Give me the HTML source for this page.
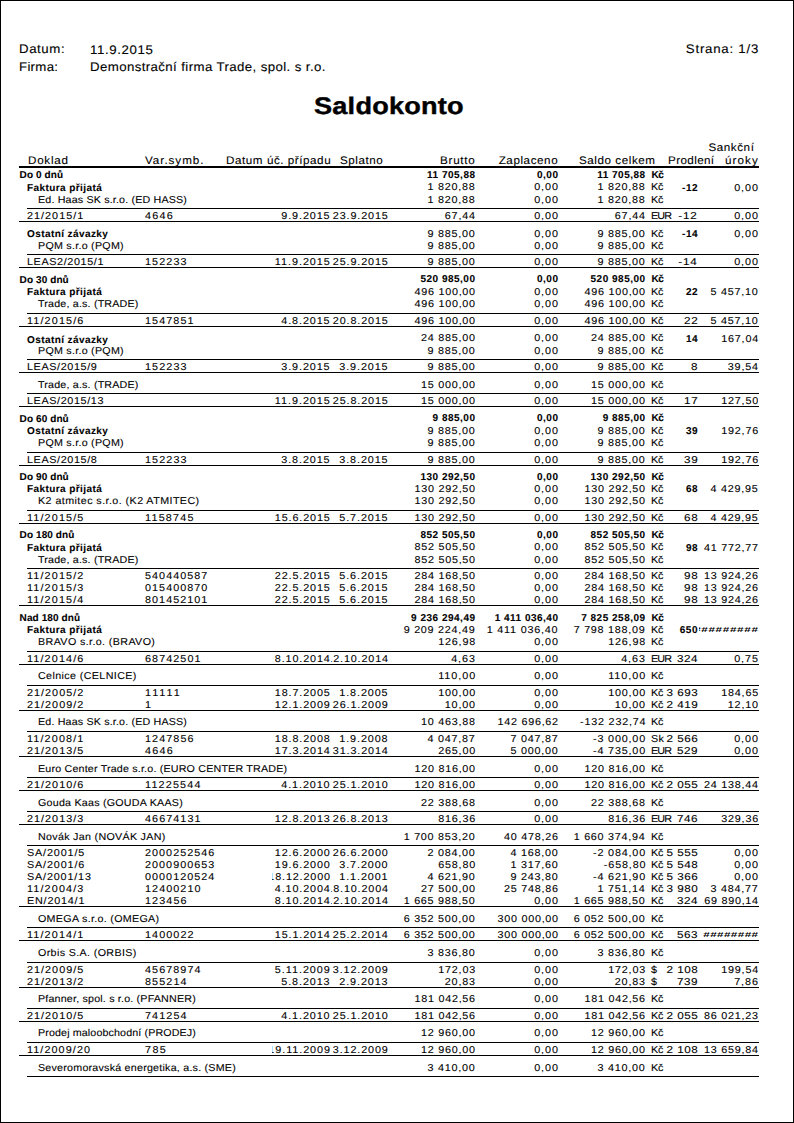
<!DOCTYPE html>
<html lang="cs"><head><meta charset="utf-8"><title>Saldokonto</title>
<style>
html,body{margin:0;padding:0;background:#fff;}
body{width:794px;height:1123px;position:relative;overflow:hidden;font-family:"Liberation Sans",sans-serif;color:#000;text-rendering:geometricPrecision;}
#pg{position:absolute;left:0;top:0;width:792px;height:1121px;border:1px solid #000;}
.t{position:absolute;white-space:pre;display:block;}
.c{position:absolute;overflow:hidden;}
.c span{position:absolute;top:0;white-space:pre;display:block;}
.l{position:absolute;background:#000;display:block;}
.hdr{font-size:11px;line-height:14px;-webkit-text-stroke:0.1px #000;}
.num{font-size:10px;line-height:13px;-webkit-text-stroke:0.1px #000;}
.date{font-size:10px;line-height:13px;-webkit-text-stroke:0.1px #000;}
.vs{font-size:10px;line-height:13px;-webkit-text-stroke:0.1px #000;}
.dok{font-size:10px;line-height:13px;-webkit-text-stroke:0.1px #000;}
.comp{font-size:10px;line-height:13px;-webkit-text-stroke:0.1px #000;}
.cur{font-size:10px;line-height:13px;-webkit-text-stroke:0.1px #000;}
.pr{font-size:10px;line-height:13px;-webkit-text-stroke:0.1px #000;}
.bG{font-size:10px;line-height:13px;font-weight:bold;-webkit-text-stroke:0.1px #000;}
.bT{font-size:10px;line-height:13px;font-weight:bold;-webkit-text-stroke:0.1px #000;}
.bnum{font-size:10px;line-height:13px;font-weight:bold;-webkit-text-stroke:0.1px #000;}
.bcur{font-size:10px;line-height:13px;font-weight:bold;-webkit-text-stroke:0.1px #000;}
.top{font-size:12.5px;line-height:16px;-webkit-text-stroke:0.1px #000;}
.title{font-size:24px;line-height:31px;font-weight:bold;}
.hash{font-size:9px;line-height:12px;font-weight:bold;}
</style></head>
<body>
<div id="pg"></div>
<span class="t top" style="top:41px;letter-spacing:0.55px;left:18.90px;transform:scaleX(1.060);transform-origin:0 50%;">Datum:</span>
<span class="t top" style="top:42px;letter-spacing:0.59px;left:89.80px;transform:scaleX(1.060);transform-origin:0 50%;">11.9.2015</span>
<span class="t top" style="top:59px;letter-spacing:0.27px;left:18.90px;transform:scaleX(1.060);transform-origin:0 50%;">Firma:</span>
<span class="t top" style="top:59px;letter-spacing:0.37px;left:90.00px;transform:scaleX(1.060);transform-origin:0 50%;">Demonstrační firma Trade, spol. s r.o.</span>
<span class="t top" style="top:41px;letter-spacing:0.72px;right:35.23px;transform:scaleX(1.060);transform-origin:100% 50%;">Strana: 1/3</span>
<span class="t title" style="top:91px;letter-spacing:0.20px;left:314.20px;transform-origin:0 50%;transform:scaleX(1.13);-webkit-text-stroke:0.4px #000;">Saldokonto</span>
<span class="t hdr" style="top:154px;letter-spacing:0.68px;left:27.70px;transform:scaleX(1.060);transform-origin:0 50%;">Doklad</span>
<span class="t hdr" style="top:154px;letter-spacing:0.88px;left:145.30px;transform:scaleX(1.060);transform-origin:0 50%;">Var.symb.</span>
<div class="c hdr" style="left:225.80px;top:154px;width:105.20px;height:14px"><span style="right:0.26px;letter-spacing:0.51px;transform:scaleX(1.060);transform-origin:100% 50%;">Datum úč. případu</span></div>
<span class="t hdr" style="top:154px;letter-spacing:0.51px;left:339.70px;transform:scaleX(1.060);transform-origin:0 50%;">Splatno</span>
<span class="t hdr" style="top:154px;letter-spacing:0.70px;right:318.46px;transform:scaleX(1.060);transform-origin:100% 50%;">Brutto</span>
<span class="t hdr" style="top:154px;letter-spacing:0.54px;right:235.43px;transform:scaleX(1.060);transform-origin:100% 50%;">Zaplaceno</span>
<span class="t hdr" style="top:154px;letter-spacing:0.52px;left:579.00px;transform:scaleX(1.060);transform-origin:0 50%;">Saldo celkem</span>
<span class="t hdr" style="top:154px;letter-spacing:0.36px;left:668.00px;transform:scaleX(1.060);transform-origin:0 50%;">Prodlení</span>
<span class="t hdr" style="top:141px;letter-spacing:0.53px;right:39.24px;transform:scaleX(1.060);transform-origin:100% 50%;">Sankční</span>
<span class="t hdr" style="top:154px;letter-spacing:0.99px;right:34.95px;transform:scaleX(1.060);transform-origin:100% 50%;">úroky</span>
<i class="l" style="left:19px;top:166px;width:740px;height:2px"></i>
<span class="t bG" style="top:169px;letter-spacing:0.10px;left:19.60px;">Do 0 dnů</span>
<span class="t bnum" style="top:169px;letter-spacing:0.50px;right:318.50px;">11 705,88</span>
<span class="t bnum" style="top:169px;letter-spacing:0.50px;right:235.50px;">0,00</span>
<span class="t bnum" style="top:169px;letter-spacing:0.50px;right:148.40px;">11 705,88</span>
<span class="t bcur" style="top:169px;letter-spacing:-0.50px;left:651.60px;">Kč</span>
<span class="t bT" style="top:182px;letter-spacing:0.42px;left:27.00px;">Faktura přijatá</span>
<span class="t num" style="top:181px;letter-spacing:0.70px;right:318.24px;transform:scaleX(1.080);transform-origin:100% 50%;">1 820,88</span>
<span class="t num" style="top:181px;letter-spacing:0.84px;right:235.09px;transform:scaleX(1.080);transform-origin:100% 50%;">0,00</span>
<span class="t num" style="top:181px;letter-spacing:0.70px;right:148.14px;transform:scaleX(1.080);transform-origin:100% 50%;">1 820,88</span>
<span class="t cur" style="top:181px;letter-spacing:-0.20px;left:651.30px;transform:scaleX(1.080);transform-origin:0 50%;">Kč</span>
<span class="t bnum" style="top:182px;letter-spacing:0.50px;right:96.00px;">-12</span>
<span class="t num" style="top:182px;letter-spacing:0.84px;right:35.09px;transform:scaleX(1.080);transform-origin:100% 50%;">0,00</span>
<span class="t comp" style="top:194px;letter-spacing:0.15px;left:38.00px;transform:scaleX(1.070);transform-origin:0 50%;">Ed. Haas SK s.r.o. (ED HASS)</span>
<span class="t num" style="top:194px;letter-spacing:0.70px;right:318.24px;transform:scaleX(1.080);transform-origin:100% 50%;">1 820,88</span>
<span class="t num" style="top:194px;letter-spacing:0.84px;right:235.09px;transform:scaleX(1.080);transform-origin:100% 50%;">0,00</span>
<span class="t num" style="top:194px;letter-spacing:0.70px;right:148.14px;transform:scaleX(1.080);transform-origin:100% 50%;">1 820,88</span>
<span class="t cur" style="top:194px;letter-spacing:-0.20px;left:651.30px;transform:scaleX(1.080);transform-origin:0 50%;">Kč</span>
<i class="l" style="left:27px;top:208px;width:732px;height:1px"></i>
<span class="t dok" style="top:210px;letter-spacing:0.95px;left:26.60px;transform:scaleX(1.080);transform-origin:0 50%;">21/2015/1</span>
<span class="t vs" style="top:210px;letter-spacing:1.14px;left:145.20px;transform:scaleX(1.080);transform-origin:0 50%;">4646</span>
<div class="c date" style="left:272.00px;top:210px;width:59.00px;height:13px"><span style="right:0.12px;letter-spacing:0.81px;transform:scaleX(1.080);transform-origin:100% 50%;">9.9.2015</span></div>
<div class="c date" style="left:331.00px;top:210px;width:58.00px;height:13px"><span style="right:0.44px;letter-spacing:0.79px;transform:scaleX(1.080);transform-origin:100% 50%;">23.9.2015</span></div>
<span class="t num" style="top:210px;letter-spacing:0.78px;right:318.16px;transform:scaleX(1.080);transform-origin:100% 50%;">67,44</span>
<span class="t num" style="top:210px;letter-spacing:0.84px;right:235.09px;transform:scaleX(1.080);transform-origin:100% 50%;">0,00</span>
<span class="t num" style="top:210px;letter-spacing:0.78px;right:148.06px;transform:scaleX(1.080);transform-origin:100% 50%;">67,44</span>
<span class="t cur" style="top:210px;letter-spacing:-0.83px;left:651.30px;transform:scaleX(1.080);transform-origin:0 50%;">EUR</span>
<span class="t pr" style="top:210px;letter-spacing:0.74px;right:95.94px;transform:scaleX(1.170);transform-origin:100% 50%;">-12</span>
<div class="c num" style="left:702.50px;top:210px;width:55.80px;height:13px"><span style="right:-0.61px;letter-spacing:0.84px;transform:scaleX(1.080);transform-origin:100% 50%;">0,00</span></div>
<i class="l" style="left:19px;top:221px;width:740px;height:1px"></i>
<span class="t bT" style="top:228px;letter-spacing:0.42px;left:27.00px;">Ostatní závazky</span>
<span class="t num" style="top:228px;letter-spacing:0.70px;right:318.24px;transform:scaleX(1.080);transform-origin:100% 50%;">9 885,00</span>
<span class="t num" style="top:228px;letter-spacing:0.84px;right:235.09px;transform:scaleX(1.080);transform-origin:100% 50%;">0,00</span>
<span class="t num" style="top:228px;letter-spacing:0.70px;right:148.14px;transform:scaleX(1.080);transform-origin:100% 50%;">9 885,00</span>
<span class="t cur" style="top:228px;letter-spacing:-0.20px;left:651.30px;transform:scaleX(1.080);transform-origin:0 50%;">Kč</span>
<span class="t bnum" style="top:228px;letter-spacing:0.50px;right:96.00px;">-14</span>
<span class="t num" style="top:228px;letter-spacing:0.84px;right:35.09px;transform:scaleX(1.080);transform-origin:100% 50%;">0,00</span>
<span class="t comp" style="top:240px;letter-spacing:0.24px;left:38.00px;transform:scaleX(1.070);transform-origin:0 50%;">PQM s.r.o (PQM)</span>
<span class="t num" style="top:240px;letter-spacing:0.70px;right:318.24px;transform:scaleX(1.080);transform-origin:100% 50%;">9 885,00</span>
<span class="t num" style="top:240px;letter-spacing:0.84px;right:235.09px;transform:scaleX(1.080);transform-origin:100% 50%;">0,00</span>
<span class="t num" style="top:240px;letter-spacing:0.70px;right:148.14px;transform:scaleX(1.080);transform-origin:100% 50%;">9 885,00</span>
<span class="t cur" style="top:240px;letter-spacing:-0.20px;left:651.30px;transform:scaleX(1.080);transform-origin:0 50%;">Kč</span>
<i class="l" style="left:27px;top:254px;width:732px;height:1px"></i>
<span class="t dok" style="top:256px;letter-spacing:0.57px;left:26.60px;transform:scaleX(1.080);transform-origin:0 50%;">LEAS2/2015/1</span>
<span class="t vs" style="top:256px;letter-spacing:1.03px;left:145.20px;transform:scaleX(1.080);transform-origin:0 50%;">152233</span>
<div class="c date" style="left:272.00px;top:256px;width:59.00px;height:13px"><span style="right:0.04px;letter-spacing:0.89px;transform:scaleX(1.080);transform-origin:100% 50%;">11.9.2015</span></div>
<div class="c date" style="left:331.00px;top:256px;width:58.00px;height:13px"><span style="right:0.44px;letter-spacing:0.79px;transform:scaleX(1.080);transform-origin:100% 50%;">25.9.2015</span></div>
<span class="t num" style="top:256px;letter-spacing:0.70px;right:318.24px;transform:scaleX(1.080);transform-origin:100% 50%;">9 885,00</span>
<span class="t num" style="top:256px;letter-spacing:0.84px;right:235.09px;transform:scaleX(1.080);transform-origin:100% 50%;">0,00</span>
<span class="t num" style="top:256px;letter-spacing:0.70px;right:148.14px;transform:scaleX(1.080);transform-origin:100% 50%;">9 885,00</span>
<span class="t cur" style="top:256px;letter-spacing:-0.20px;left:651.30px;transform:scaleX(1.080);transform-origin:0 50%;">Kč</span>
<span class="t pr" style="top:256px;letter-spacing:0.74px;right:95.94px;transform:scaleX(1.170);transform-origin:100% 50%;">-14</span>
<div class="c num" style="left:702.50px;top:256px;width:55.80px;height:13px"><span style="right:-0.61px;letter-spacing:0.84px;transform:scaleX(1.080);transform-origin:100% 50%;">0,00</span></div>
<i class="l" style="left:19px;top:267px;width:740px;height:1px"></i>
<span class="t bG" style="top:274px;letter-spacing:0.10px;left:19.60px;">Do 30 dnů</span>
<span class="t bnum" style="top:273px;letter-spacing:0.50px;right:318.50px;">520 985,00</span>
<span class="t bnum" style="top:273px;letter-spacing:0.50px;right:235.50px;">0,00</span>
<span class="t bnum" style="top:273px;letter-spacing:0.50px;right:148.40px;">520 985,00</span>
<span class="t bcur" style="top:273px;letter-spacing:-0.50px;left:651.60px;">Kč</span>
<span class="t bT" style="top:286px;letter-spacing:0.42px;left:27.00px;">Faktura přijatá</span>
<span class="t num" style="top:286px;letter-spacing:0.68px;right:318.27px;transform:scaleX(1.080);transform-origin:100% 50%;">496 100,00</span>
<span class="t num" style="top:286px;letter-spacing:0.84px;right:235.09px;transform:scaleX(1.080);transform-origin:100% 50%;">0,00</span>
<span class="t num" style="top:286px;letter-spacing:0.68px;right:148.17px;transform:scaleX(1.080);transform-origin:100% 50%;">496 100,00</span>
<span class="t cur" style="top:286px;letter-spacing:-0.20px;left:651.30px;transform:scaleX(1.080);transform-origin:0 50%;">Kč</span>
<span class="t bnum" style="top:286px;letter-spacing:0.50px;right:96.00px;">22</span>
<span class="t num" style="top:286px;letter-spacing:0.70px;right:35.24px;transform:scaleX(1.080);transform-origin:100% 50%;">5 457,10</span>
<span class="t comp" style="top:298px;letter-spacing:0.17px;left:38.00px;transform:scaleX(1.070);transform-origin:0 50%;">Trade, a.s. (TRADE)</span>
<span class="t num" style="top:298px;letter-spacing:0.68px;right:318.27px;transform:scaleX(1.080);transform-origin:100% 50%;">496 100,00</span>
<span class="t num" style="top:298px;letter-spacing:0.84px;right:235.09px;transform:scaleX(1.080);transform-origin:100% 50%;">0,00</span>
<span class="t num" style="top:298px;letter-spacing:0.68px;right:148.17px;transform:scaleX(1.080);transform-origin:100% 50%;">496 100,00</span>
<span class="t cur" style="top:298px;letter-spacing:-0.20px;left:651.30px;transform:scaleX(1.080);transform-origin:0 50%;">Kč</span>
<i class="l" style="left:27px;top:313px;width:732px;height:1px"></i>
<span class="t dok" style="top:315px;letter-spacing:1.05px;left:26.60px;transform:scaleX(1.080);transform-origin:0 50%;">11/2015/6</span>
<span class="t vs" style="top:315px;letter-spacing:1.00px;left:145.20px;transform:scaleX(1.080);transform-origin:0 50%;">1547851</span>
<div class="c date" style="left:272.00px;top:315px;width:59.00px;height:13px"><span style="right:0.12px;letter-spacing:0.81px;transform:scaleX(1.080);transform-origin:100% 50%;">4.8.2015</span></div>
<div class="c date" style="left:331.00px;top:315px;width:58.00px;height:13px"><span style="right:0.44px;letter-spacing:0.79px;transform:scaleX(1.080);transform-origin:100% 50%;">20.8.2015</span></div>
<span class="t num" style="top:315px;letter-spacing:0.68px;right:318.27px;transform:scaleX(1.080);transform-origin:100% 50%;">496 100,00</span>
<span class="t num" style="top:315px;letter-spacing:0.84px;right:235.09px;transform:scaleX(1.080);transform-origin:100% 50%;">0,00</span>
<span class="t num" style="top:315px;letter-spacing:0.68px;right:148.17px;transform:scaleX(1.080);transform-origin:100% 50%;">496 100,00</span>
<span class="t cur" style="top:315px;letter-spacing:-0.20px;left:651.30px;transform:scaleX(1.080);transform-origin:0 50%;">Kč</span>
<span class="t pr" style="top:315px;letter-spacing:0.62px;right:96.08px;transform:scaleX(1.170);transform-origin:100% 50%;">22</span>
<div class="c num" style="left:702.50px;top:315px;width:55.80px;height:13px"><span style="right:-0.46px;letter-spacing:0.70px;transform:scaleX(1.080);transform-origin:100% 50%;">5 457,10</span></div>
<i class="l" style="left:19px;top:326px;width:740px;height:1px"></i>
<span class="t bT" style="top:334px;letter-spacing:0.42px;left:27.00px;">Ostatní závazky</span>
<span class="t num" style="top:332px;letter-spacing:0.69px;right:318.26px;transform:scaleX(1.080);transform-origin:100% 50%;">24 885,00</span>
<span class="t num" style="top:332px;letter-spacing:0.84px;right:235.09px;transform:scaleX(1.080);transform-origin:100% 50%;">0,00</span>
<span class="t num" style="top:332px;letter-spacing:0.69px;right:148.16px;transform:scaleX(1.080);transform-origin:100% 50%;">24 885,00</span>
<span class="t cur" style="top:332px;letter-spacing:-0.20px;left:651.30px;transform:scaleX(1.080);transform-origin:0 50%;">Kč</span>
<span class="t bnum" style="top:333px;letter-spacing:0.50px;right:96.00px;">14</span>
<span class="t num" style="top:333px;letter-spacing:0.74px;right:35.20px;transform:scaleX(1.080);transform-origin:100% 50%;">167,04</span>
<span class="t comp" style="top:345px;letter-spacing:0.24px;left:38.00px;transform:scaleX(1.070);transform-origin:0 50%;">PQM s.r.o (PQM)</span>
<span class="t num" style="top:345px;letter-spacing:0.70px;right:318.24px;transform:scaleX(1.080);transform-origin:100% 50%;">9 885,00</span>
<span class="t num" style="top:345px;letter-spacing:0.84px;right:235.09px;transform:scaleX(1.080);transform-origin:100% 50%;">0,00</span>
<span class="t num" style="top:345px;letter-spacing:0.70px;right:148.14px;transform:scaleX(1.080);transform-origin:100% 50%;">9 885,00</span>
<span class="t cur" style="top:345px;letter-spacing:-0.20px;left:651.30px;transform:scaleX(1.080);transform-origin:0 50%;">Kč</span>
<i class="l" style="left:27px;top:359px;width:732px;height:1px"></i>
<span class="t dok" style="top:361px;letter-spacing:0.57px;left:26.60px;transform:scaleX(1.080);transform-origin:0 50%;">LEAS/2015/9</span>
<span class="t vs" style="top:361px;letter-spacing:1.03px;left:145.20px;transform:scaleX(1.080);transform-origin:0 50%;">152233</span>
<div class="c date" style="left:272.00px;top:361px;width:59.00px;height:13px"><span style="right:0.12px;letter-spacing:0.81px;transform:scaleX(1.080);transform-origin:100% 50%;">3.9.2015</span></div>
<div class="c date" style="left:331.00px;top:361px;width:58.00px;height:13px"><span style="right:0.42px;letter-spacing:0.81px;transform:scaleX(1.080);transform-origin:100% 50%;">3.9.2015</span></div>
<span class="t num" style="top:361px;letter-spacing:0.70px;right:318.24px;transform:scaleX(1.080);transform-origin:100% 50%;">9 885,00</span>
<span class="t num" style="top:361px;letter-spacing:0.84px;right:235.09px;transform:scaleX(1.080);transform-origin:100% 50%;">0,00</span>
<span class="t num" style="top:361px;letter-spacing:0.70px;right:148.14px;transform:scaleX(1.080);transform-origin:100% 50%;">9 885,00</span>
<span class="t cur" style="top:361px;letter-spacing:-0.20px;left:651.30px;transform:scaleX(1.080);transform-origin:0 50%;">Kč</span>
<span class="t pr" style="top:361px;letter-spacing:0.31px;right:96.44px;transform:scaleX(1.170);transform-origin:100% 50%;">8</span>
<div class="c num" style="left:702.50px;top:361px;width:55.80px;height:13px"><span style="right:-0.54px;letter-spacing:0.78px;transform:scaleX(1.080);transform-origin:100% 50%;">39,54</span></div>
<i class="l" style="left:19px;top:372px;width:740px;height:1px"></i>
<span class="t comp" style="top:379px;letter-spacing:0.17px;left:38.00px;transform:scaleX(1.070);transform-origin:0 50%;">Trade, a.s. (TRADE)</span>
<span class="t num" style="top:379px;letter-spacing:0.69px;right:318.26px;transform:scaleX(1.080);transform-origin:100% 50%;">15 000,00</span>
<span class="t num" style="top:379px;letter-spacing:0.84px;right:235.09px;transform:scaleX(1.080);transform-origin:100% 50%;">0,00</span>
<span class="t num" style="top:379px;letter-spacing:0.69px;right:148.16px;transform:scaleX(1.080);transform-origin:100% 50%;">15 000,00</span>
<span class="t cur" style="top:379px;letter-spacing:-0.20px;left:651.30px;transform:scaleX(1.080);transform-origin:0 50%;">Kč</span>
<i class="l" style="left:27px;top:393px;width:732px;height:1px"></i>
<span class="t dok" style="top:395px;letter-spacing:0.57px;left:26.60px;transform:scaleX(1.080);transform-origin:0 50%;">LEAS/2015/13</span>
<div class="c date" style="left:272.00px;top:395px;width:59.00px;height:13px"><span style="right:0.04px;letter-spacing:0.89px;transform:scaleX(1.080);transform-origin:100% 50%;">11.9.2015</span></div>
<div class="c date" style="left:331.00px;top:395px;width:58.00px;height:13px"><span style="right:0.44px;letter-spacing:0.79px;transform:scaleX(1.080);transform-origin:100% 50%;">25.8.2015</span></div>
<span class="t num" style="top:395px;letter-spacing:0.69px;right:318.26px;transform:scaleX(1.080);transform-origin:100% 50%;">15 000,00</span>
<span class="t num" style="top:395px;letter-spacing:0.84px;right:235.09px;transform:scaleX(1.080);transform-origin:100% 50%;">0,00</span>
<span class="t num" style="top:395px;letter-spacing:0.69px;right:148.16px;transform:scaleX(1.080);transform-origin:100% 50%;">15 000,00</span>
<span class="t cur" style="top:395px;letter-spacing:-0.20px;left:651.30px;transform:scaleX(1.080);transform-origin:0 50%;">Kč</span>
<span class="t pr" style="top:395px;letter-spacing:0.62px;right:96.08px;transform:scaleX(1.170);transform-origin:100% 50%;">17</span>
<div class="c num" style="left:702.50px;top:395px;width:55.80px;height:13px"><span style="right:-0.50px;letter-spacing:0.74px;transform:scaleX(1.080);transform-origin:100% 50%;">127,50</span></div>
<i class="l" style="left:19px;top:406px;width:740px;height:1px"></i>
<span class="t bG" style="top:413px;letter-spacing:0.10px;left:19.60px;">Do 60 dnů</span>
<span class="t bnum" style="top:412px;letter-spacing:0.50px;right:318.50px;">9 885,00</span>
<span class="t bnum" style="top:412px;letter-spacing:0.50px;right:235.50px;">0,00</span>
<span class="t bnum" style="top:412px;letter-spacing:0.50px;right:148.40px;">9 885,00</span>
<span class="t bcur" style="top:412px;letter-spacing:-0.50px;left:651.60px;">Kč</span>
<span class="t bT" style="top:425px;letter-spacing:0.42px;left:27.00px;">Ostatní závazky</span>
<span class="t num" style="top:425px;letter-spacing:0.70px;right:318.24px;transform:scaleX(1.080);transform-origin:100% 50%;">9 885,00</span>
<span class="t num" style="top:425px;letter-spacing:0.84px;right:235.09px;transform:scaleX(1.080);transform-origin:100% 50%;">0,00</span>
<span class="t num" style="top:425px;letter-spacing:0.70px;right:148.14px;transform:scaleX(1.080);transform-origin:100% 50%;">9 885,00</span>
<span class="t cur" style="top:425px;letter-spacing:-0.20px;left:651.30px;transform:scaleX(1.080);transform-origin:0 50%;">Kč</span>
<span class="t bnum" style="top:425px;letter-spacing:0.50px;right:96.00px;">39</span>
<span class="t num" style="top:425px;letter-spacing:0.74px;right:35.20px;transform:scaleX(1.080);transform-origin:100% 50%;">192,76</span>
<span class="t comp" style="top:437px;letter-spacing:0.24px;left:38.00px;transform:scaleX(1.070);transform-origin:0 50%;">PQM s.r.o (PQM)</span>
<span class="t num" style="top:437px;letter-spacing:0.70px;right:318.24px;transform:scaleX(1.080);transform-origin:100% 50%;">9 885,00</span>
<span class="t num" style="top:437px;letter-spacing:0.84px;right:235.09px;transform:scaleX(1.080);transform-origin:100% 50%;">0,00</span>
<span class="t num" style="top:437px;letter-spacing:0.70px;right:148.14px;transform:scaleX(1.080);transform-origin:100% 50%;">9 885,00</span>
<span class="t cur" style="top:437px;letter-spacing:-0.20px;left:651.30px;transform:scaleX(1.080);transform-origin:0 50%;">Kč</span>
<i class="l" style="left:27px;top:452px;width:732px;height:1px"></i>
<span class="t dok" style="top:454px;letter-spacing:0.57px;left:26.60px;transform:scaleX(1.080);transform-origin:0 50%;">LEAS/2015/8</span>
<span class="t vs" style="top:454px;letter-spacing:1.03px;left:145.20px;transform:scaleX(1.080);transform-origin:0 50%;">152233</span>
<div class="c date" style="left:272.00px;top:454px;width:59.00px;height:13px"><span style="right:0.12px;letter-spacing:0.81px;transform:scaleX(1.080);transform-origin:100% 50%;">3.8.2015</span></div>
<div class="c date" style="left:331.00px;top:454px;width:58.00px;height:13px"><span style="right:0.42px;letter-spacing:0.81px;transform:scaleX(1.080);transform-origin:100% 50%;">3.8.2015</span></div>
<span class="t num" style="top:454px;letter-spacing:0.70px;right:318.24px;transform:scaleX(1.080);transform-origin:100% 50%;">9 885,00</span>
<span class="t num" style="top:454px;letter-spacing:0.84px;right:235.09px;transform:scaleX(1.080);transform-origin:100% 50%;">0,00</span>
<span class="t num" style="top:454px;letter-spacing:0.70px;right:148.14px;transform:scaleX(1.080);transform-origin:100% 50%;">9 885,00</span>
<span class="t cur" style="top:454px;letter-spacing:-0.20px;left:651.30px;transform:scaleX(1.080);transform-origin:0 50%;">Kč</span>
<span class="t pr" style="top:454px;letter-spacing:0.62px;right:96.08px;transform:scaleX(1.170);transform-origin:100% 50%;">39</span>
<div class="c num" style="left:702.50px;top:454px;width:55.80px;height:13px"><span style="right:-0.50px;letter-spacing:0.74px;transform:scaleX(1.080);transform-origin:100% 50%;">192,76</span></div>
<i class="l" style="left:19px;top:465px;width:740px;height:1px"></i>
<span class="t bG" style="top:471px;letter-spacing:0.10px;left:19.60px;">Do 90 dnů</span>
<span class="t bnum" style="top:471px;letter-spacing:0.50px;right:318.50px;">130 292,50</span>
<span class="t bnum" style="top:471px;letter-spacing:0.50px;right:235.50px;">0,00</span>
<span class="t bnum" style="top:471px;letter-spacing:0.50px;right:148.40px;">130 292,50</span>
<span class="t bcur" style="top:471px;letter-spacing:-0.50px;left:651.60px;">Kč</span>
<span class="t bT" style="top:483px;letter-spacing:0.42px;left:27.00px;">Faktura přijatá</span>
<span class="t num" style="top:483px;letter-spacing:0.68px;right:318.27px;transform:scaleX(1.080);transform-origin:100% 50%;">130 292,50</span>
<span class="t num" style="top:483px;letter-spacing:0.84px;right:235.09px;transform:scaleX(1.080);transform-origin:100% 50%;">0,00</span>
<span class="t num" style="top:483px;letter-spacing:0.68px;right:148.17px;transform:scaleX(1.080);transform-origin:100% 50%;">130 292,50</span>
<span class="t cur" style="top:483px;letter-spacing:-0.20px;left:651.30px;transform:scaleX(1.080);transform-origin:0 50%;">Kč</span>
<span class="t bnum" style="top:483px;letter-spacing:0.50px;right:96.00px;">68</span>
<span class="t num" style="top:483px;letter-spacing:0.70px;right:35.24px;transform:scaleX(1.080);transform-origin:100% 50%;">4 429,95</span>
<span class="t comp" style="top:495px;letter-spacing:0.41px;left:38.00px;transform:scaleX(1.070);transform-origin:0 50%;">K2 atmitec s.r.o. (K2 ATMITEC)</span>
<span class="t num" style="top:495px;letter-spacing:0.68px;right:318.27px;transform:scaleX(1.080);transform-origin:100% 50%;">130 292,50</span>
<span class="t num" style="top:495px;letter-spacing:0.84px;right:235.09px;transform:scaleX(1.080);transform-origin:100% 50%;">0,00</span>
<span class="t num" style="top:495px;letter-spacing:0.68px;right:148.17px;transform:scaleX(1.080);transform-origin:100% 50%;">130 292,50</span>
<span class="t cur" style="top:495px;letter-spacing:-0.20px;left:651.30px;transform:scaleX(1.080);transform-origin:0 50%;">Kč</span>
<i class="l" style="left:27px;top:510px;width:732px;height:1px"></i>
<span class="t dok" style="top:512px;letter-spacing:1.05px;left:26.60px;transform:scaleX(1.080);transform-origin:0 50%;">11/2015/5</span>
<span class="t vs" style="top:512px;letter-spacing:1.12px;left:145.20px;transform:scaleX(1.080);transform-origin:0 50%;">1158745</span>
<div class="c date" style="left:272.00px;top:512px;width:59.00px;height:13px"><span style="right:0.14px;letter-spacing:0.79px;transform:scaleX(1.080);transform-origin:100% 50%;">15.6.2015</span></div>
<div class="c date" style="left:331.00px;top:512px;width:58.00px;height:13px"><span style="right:0.42px;letter-spacing:0.81px;transform:scaleX(1.080);transform-origin:100% 50%;">5.7.2015</span></div>
<span class="t num" style="top:512px;letter-spacing:0.68px;right:318.27px;transform:scaleX(1.080);transform-origin:100% 50%;">130 292,50</span>
<span class="t num" style="top:512px;letter-spacing:0.84px;right:235.09px;transform:scaleX(1.080);transform-origin:100% 50%;">0,00</span>
<span class="t num" style="top:512px;letter-spacing:0.68px;right:148.17px;transform:scaleX(1.080);transform-origin:100% 50%;">130 292,50</span>
<span class="t cur" style="top:512px;letter-spacing:-0.20px;left:651.30px;transform:scaleX(1.080);transform-origin:0 50%;">Kč</span>
<span class="t pr" style="top:512px;letter-spacing:0.62px;right:96.08px;transform:scaleX(1.170);transform-origin:100% 50%;">68</span>
<div class="c num" style="left:702.50px;top:512px;width:55.80px;height:13px"><span style="right:-0.46px;letter-spacing:0.70px;transform:scaleX(1.080);transform-origin:100% 50%;">4 429,95</span></div>
<i class="l" style="left:19px;top:523px;width:740px;height:1px"></i>
<span class="t bG" style="top:529px;letter-spacing:0.10px;left:19.60px;">Do 180 dnů</span>
<span class="t bnum" style="top:529px;letter-spacing:0.50px;right:318.50px;">852 505,50</span>
<span class="t bnum" style="top:529px;letter-spacing:0.50px;right:235.50px;">0,00</span>
<span class="t bnum" style="top:529px;letter-spacing:0.50px;right:148.40px;">852 505,50</span>
<span class="t bcur" style="top:529px;letter-spacing:-0.50px;left:651.60px;">Kč</span>
<span class="t bT" style="top:542px;letter-spacing:0.42px;left:27.00px;">Faktura přijatá</span>
<span class="t num" style="top:541px;letter-spacing:0.68px;right:318.27px;transform:scaleX(1.080);transform-origin:100% 50%;">852 505,50</span>
<span class="t num" style="top:541px;letter-spacing:0.84px;right:235.09px;transform:scaleX(1.080);transform-origin:100% 50%;">0,00</span>
<span class="t num" style="top:541px;letter-spacing:0.68px;right:148.17px;transform:scaleX(1.080);transform-origin:100% 50%;">852 505,50</span>
<span class="t cur" style="top:541px;letter-spacing:-0.20px;left:651.30px;transform:scaleX(1.080);transform-origin:0 50%;">Kč</span>
<span class="t bnum" style="top:542px;letter-spacing:0.50px;right:96.00px;">98</span>
<span class="t num" style="top:542px;letter-spacing:0.69px;right:35.26px;transform:scaleX(1.080);transform-origin:100% 50%;">41 772,77</span>
<span class="t comp" style="top:554px;letter-spacing:0.17px;left:38.00px;transform:scaleX(1.070);transform-origin:0 50%;">Trade, a.s. (TRADE)</span>
<span class="t num" style="top:554px;letter-spacing:0.68px;right:318.27px;transform:scaleX(1.080);transform-origin:100% 50%;">852 505,50</span>
<span class="t num" style="top:554px;letter-spacing:0.84px;right:235.09px;transform:scaleX(1.080);transform-origin:100% 50%;">0,00</span>
<span class="t num" style="top:554px;letter-spacing:0.68px;right:148.17px;transform:scaleX(1.080);transform-origin:100% 50%;">852 505,50</span>
<span class="t cur" style="top:554px;letter-spacing:-0.20px;left:651.30px;transform:scaleX(1.080);transform-origin:0 50%;">Kč</span>
<i class="l" style="left:27px;top:568px;width:732px;height:1px"></i>
<span class="t dok" style="top:570px;letter-spacing:1.05px;left:26.60px;transform:scaleX(1.080);transform-origin:0 50%;">11/2015/2</span>
<span class="t vs" style="top:570px;letter-spacing:0.96px;left:145.20px;transform:scaleX(1.080);transform-origin:0 50%;">540440587</span>
<div class="c date" style="left:272.00px;top:570px;width:59.00px;height:13px"><span style="right:0.14px;letter-spacing:0.79px;transform:scaleX(1.080);transform-origin:100% 50%;">22.5.2015</span></div>
<div class="c date" style="left:331.00px;top:570px;width:58.00px;height:13px"><span style="right:0.42px;letter-spacing:0.81px;transform:scaleX(1.080);transform-origin:100% 50%;">5.6.2015</span></div>
<span class="t num" style="top:570px;letter-spacing:0.68px;right:318.27px;transform:scaleX(1.080);transform-origin:100% 50%;">284 168,50</span>
<span class="t num" style="top:570px;letter-spacing:0.84px;right:235.09px;transform:scaleX(1.080);transform-origin:100% 50%;">0,00</span>
<span class="t num" style="top:570px;letter-spacing:0.68px;right:148.17px;transform:scaleX(1.080);transform-origin:100% 50%;">284 168,50</span>
<span class="t cur" style="top:570px;letter-spacing:-0.20px;left:651.30px;transform:scaleX(1.080);transform-origin:0 50%;">Kč</span>
<span class="t pr" style="top:570px;letter-spacing:0.62px;right:96.08px;transform:scaleX(1.170);transform-origin:100% 50%;">98</span>
<div class="c num" style="left:702.50px;top:570px;width:55.80px;height:13px"><span style="right:-0.44px;letter-spacing:0.69px;transform:scaleX(1.080);transform-origin:100% 50%;">13 924,26</span></div>
<span class="t dok" style="top:582px;letter-spacing:1.05px;left:26.60px;transform:scaleX(1.080);transform-origin:0 50%;">11/2015/3</span>
<span class="t vs" style="top:582px;letter-spacing:0.96px;left:145.20px;transform:scaleX(1.080);transform-origin:0 50%;">015400870</span>
<div class="c date" style="left:272.00px;top:582px;width:59.00px;height:13px"><span style="right:0.14px;letter-spacing:0.79px;transform:scaleX(1.080);transform-origin:100% 50%;">22.5.2015</span></div>
<div class="c date" style="left:331.00px;top:582px;width:58.00px;height:13px"><span style="right:0.42px;letter-spacing:0.81px;transform:scaleX(1.080);transform-origin:100% 50%;">5.6.2015</span></div>
<span class="t num" style="top:582px;letter-spacing:0.68px;right:318.27px;transform:scaleX(1.080);transform-origin:100% 50%;">284 168,50</span>
<span class="t num" style="top:582px;letter-spacing:0.84px;right:235.09px;transform:scaleX(1.080);transform-origin:100% 50%;">0,00</span>
<span class="t num" style="top:582px;letter-spacing:0.68px;right:148.17px;transform:scaleX(1.080);transform-origin:100% 50%;">284 168,50</span>
<span class="t cur" style="top:582px;letter-spacing:-0.20px;left:651.30px;transform:scaleX(1.080);transform-origin:0 50%;">Kč</span>
<span class="t pr" style="top:582px;letter-spacing:0.62px;right:96.08px;transform:scaleX(1.170);transform-origin:100% 50%;">98</span>
<div class="c num" style="left:702.50px;top:582px;width:55.80px;height:13px"><span style="right:-0.44px;letter-spacing:0.69px;transform:scaleX(1.080);transform-origin:100% 50%;">13 924,26</span></div>
<span class="t dok" style="top:594px;letter-spacing:1.05px;left:26.60px;transform:scaleX(1.080);transform-origin:0 50%;">11/2015/4</span>
<span class="t vs" style="top:594px;letter-spacing:0.96px;left:145.20px;transform:scaleX(1.080);transform-origin:0 50%;">801452101</span>
<div class="c date" style="left:272.00px;top:594px;width:59.00px;height:13px"><span style="right:0.14px;letter-spacing:0.79px;transform:scaleX(1.080);transform-origin:100% 50%;">22.5.2015</span></div>
<div class="c date" style="left:331.00px;top:594px;width:58.00px;height:13px"><span style="right:0.42px;letter-spacing:0.81px;transform:scaleX(1.080);transform-origin:100% 50%;">5.6.2015</span></div>
<span class="t num" style="top:594px;letter-spacing:0.68px;right:318.27px;transform:scaleX(1.080);transform-origin:100% 50%;">284 168,50</span>
<span class="t num" style="top:594px;letter-spacing:0.84px;right:235.09px;transform:scaleX(1.080);transform-origin:100% 50%;">0,00</span>
<span class="t num" style="top:594px;letter-spacing:0.68px;right:148.17px;transform:scaleX(1.080);transform-origin:100% 50%;">284 168,50</span>
<span class="t cur" style="top:594px;letter-spacing:-0.20px;left:651.30px;transform:scaleX(1.080);transform-origin:0 50%;">Kč</span>
<span class="t pr" style="top:594px;letter-spacing:0.62px;right:96.08px;transform:scaleX(1.170);transform-origin:100% 50%;">98</span>
<div class="c num" style="left:702.50px;top:594px;width:55.80px;height:13px"><span style="right:-0.44px;letter-spacing:0.69px;transform:scaleX(1.080);transform-origin:100% 50%;">13 924,26</span></div>
<i class="l" style="left:19px;top:605px;width:740px;height:1px"></i>
<span class="t bG" style="top:612px;letter-spacing:0.10px;left:19.60px;">Nad 180 dnů</span>
<span class="t bnum" style="top:612px;letter-spacing:0.50px;right:318.50px;">9 236 294,49</span>
<span class="t bnum" style="top:612px;letter-spacing:0.50px;right:235.50px;">1 411 036,40</span>
<span class="t bnum" style="top:612px;letter-spacing:0.50px;right:148.40px;">7 825 258,09</span>
<span class="t bcur" style="top:612px;letter-spacing:-0.50px;left:651.60px;">Kč</span>
<span class="t bT" style="top:624px;letter-spacing:0.42px;left:27.00px;">Faktura přijatá</span>
<span class="t num" style="top:624px;letter-spacing:0.67px;right:318.28px;transform:scaleX(1.080);transform-origin:100% 50%;">9 209 224,49</span>
<span class="t num" style="top:624px;letter-spacing:0.73px;right:235.21px;transform:scaleX(1.080);transform-origin:100% 50%;">1 411 036,40</span>
<span class="t num" style="top:624px;letter-spacing:0.67px;right:148.18px;transform:scaleX(1.080);transform-origin:100% 50%;">7 798 188,09</span>
<span class="t cur" style="top:624px;letter-spacing:-0.20px;left:651.30px;transform:scaleX(1.080);transform-origin:0 50%;">Kč</span>
<span class="t bnum" style="top:624px;letter-spacing:0.50px;right:96.00px;">650</span>
<div class="c hash" style="left:698.70px;top:623px;width:59.60px;height:12px"><span style="right:-0.70px;letter-spacing:0.50px;transform:scale(1.3,0.78);transform-origin:100% 75%;">#########</span></div>
<span class="t comp" style="top:636px;letter-spacing:0.36px;left:38.00px;transform:scaleX(1.070);transform-origin:0 50%;">BRAVO s.r.o. (BRAVO)</span>
<span class="t num" style="top:636px;letter-spacing:0.74px;right:318.20px;transform:scaleX(1.080);transform-origin:100% 50%;">126,98</span>
<span class="t num" style="top:636px;letter-spacing:0.84px;right:235.09px;transform:scaleX(1.080);transform-origin:100% 50%;">0,00</span>
<span class="t num" style="top:636px;letter-spacing:0.74px;right:148.10px;transform:scaleX(1.080);transform-origin:100% 50%;">126,98</span>
<span class="t cur" style="top:636px;letter-spacing:-0.20px;left:651.30px;transform:scaleX(1.080);transform-origin:0 50%;">Kč</span>
<i class="l" style="left:27px;top:651px;width:732px;height:1px"></i>
<span class="t dok" style="top:653px;letter-spacing:1.05px;left:26.60px;transform:scaleX(1.080);transform-origin:0 50%;">11/2014/6</span>
<span class="t vs" style="top:653px;letter-spacing:0.98px;left:145.20px;transform:scaleX(1.080);transform-origin:0 50%;">68742501</span>
<div class="c date" style="left:272.00px;top:653px;width:59.00px;height:13px"><span style="right:0.14px;letter-spacing:0.79px;transform:scaleX(1.080);transform-origin:100% 50%;">8.10.2014</span></div>
<div class="c date" style="left:331.00px;top:653px;width:58.00px;height:13px"><span style="right:0.46px;letter-spacing:0.78px;transform:scaleX(1.080);transform-origin:100% 50%;">12.10.2014</span></div>
<span class="t num" style="top:653px;letter-spacing:0.84px;right:318.09px;transform:scaleX(1.080);transform-origin:100% 50%;">4,63</span>
<span class="t num" style="top:653px;letter-spacing:0.84px;right:235.09px;transform:scaleX(1.080);transform-origin:100% 50%;">0,00</span>
<span class="t num" style="top:653px;letter-spacing:0.84px;right:147.99px;transform:scaleX(1.080);transform-origin:100% 50%;">4,63</span>
<span class="t cur" style="top:653px;letter-spacing:-0.83px;left:651.30px;transform:scaleX(1.080);transform-origin:0 50%;">EUR</span>
<span class="t pr" style="top:653px;letter-spacing:0.46px;right:96.26px;transform:scaleX(1.170);transform-origin:100% 50%;">324</span>
<div class="c num" style="left:702.50px;top:653px;width:55.80px;height:13px"><span style="right:-0.61px;letter-spacing:0.84px;transform:scaleX(1.080);transform-origin:100% 50%;">0,75</span></div>
<i class="l" style="left:19px;top:664px;width:740px;height:1px"></i>
<span class="t comp" style="top:670px;letter-spacing:0.36px;left:38.00px;transform:scaleX(1.070);transform-origin:0 50%;">Celnice (CELNICE)</span>
<span class="t num" style="top:670px;letter-spacing:0.89px;right:318.04px;transform:scaleX(1.080);transform-origin:100% 50%;">110,00</span>
<span class="t num" style="top:670px;letter-spacing:0.84px;right:235.09px;transform:scaleX(1.080);transform-origin:100% 50%;">0,00</span>
<span class="t num" style="top:670px;letter-spacing:0.89px;right:147.94px;transform:scaleX(1.080);transform-origin:100% 50%;">110,00</span>
<span class="t cur" style="top:670px;letter-spacing:-0.20px;left:651.30px;transform:scaleX(1.080);transform-origin:0 50%;">Kč</span>
<i class="l" style="left:27px;top:685px;width:732px;height:1px"></i>
<span class="t dok" style="top:687px;letter-spacing:0.95px;left:26.60px;transform:scaleX(1.080);transform-origin:0 50%;">21/2005/2</span>
<span class="t vs" style="top:687px;letter-spacing:1.81px;left:145.20px;transform:scaleX(1.080);transform-origin:0 50%;">11111</span>
<div class="c date" style="left:272.00px;top:687px;width:59.00px;height:13px"><span style="right:0.14px;letter-spacing:0.79px;transform:scaleX(1.080);transform-origin:100% 50%;">18.7.2005</span></div>
<div class="c date" style="left:331.00px;top:687px;width:58.00px;height:13px"><span style="right:0.42px;letter-spacing:0.81px;transform:scaleX(1.080);transform-origin:100% 50%;">1.8.2005</span></div>
<span class="t num" style="top:687px;letter-spacing:0.74px;right:318.20px;transform:scaleX(1.080);transform-origin:100% 50%;">100,00</span>
<span class="t num" style="top:687px;letter-spacing:0.84px;right:235.09px;transform:scaleX(1.080);transform-origin:100% 50%;">0,00</span>
<span class="t num" style="top:687px;letter-spacing:0.74px;right:148.10px;transform:scaleX(1.080);transform-origin:100% 50%;">100,00</span>
<span class="t cur" style="top:687px;letter-spacing:-0.20px;left:651.30px;transform:scaleX(1.080);transform-origin:0 50%;">Kč</span>
<span class="t pr" style="top:687px;letter-spacing:0.43px;right:96.30px;transform:scaleX(1.170);transform-origin:100% 50%;">3 693</span>
<div class="c num" style="left:702.50px;top:687px;width:55.80px;height:13px"><span style="right:-0.50px;letter-spacing:0.74px;transform:scaleX(1.080);transform-origin:100% 50%;">184,65</span></div>
<span class="t dok" style="top:699px;letter-spacing:0.95px;left:26.60px;transform:scaleX(1.080);transform-origin:0 50%;">21/2009/2</span>
<span class="t vs" style="top:699px;letter-spacing:0.86px;left:145.20px;transform:scaleX(1.080);transform-origin:0 50%;">1</span>
<div class="c date" style="left:272.00px;top:699px;width:59.00px;height:13px"><span style="right:0.14px;letter-spacing:0.79px;transform:scaleX(1.080);transform-origin:100% 50%;">12.1.2009</span></div>
<div class="c date" style="left:331.00px;top:699px;width:58.00px;height:13px"><span style="right:0.44px;letter-spacing:0.79px;transform:scaleX(1.080);transform-origin:100% 50%;">26.1.2009</span></div>
<span class="t num" style="top:699px;letter-spacing:0.78px;right:318.16px;transform:scaleX(1.080);transform-origin:100% 50%;">10,00</span>
<span class="t num" style="top:699px;letter-spacing:0.84px;right:235.09px;transform:scaleX(1.080);transform-origin:100% 50%;">0,00</span>
<span class="t num" style="top:699px;letter-spacing:0.78px;right:148.06px;transform:scaleX(1.080);transform-origin:100% 50%;">10,00</span>
<span class="t cur" style="top:699px;letter-spacing:-0.20px;left:651.30px;transform:scaleX(1.080);transform-origin:0 50%;">Kč</span>
<span class="t pr" style="top:699px;letter-spacing:0.43px;right:96.30px;transform:scaleX(1.170);transform-origin:100% 50%;">2 419</span>
<div class="c num" style="left:702.50px;top:699px;width:55.80px;height:13px"><span style="right:-0.54px;letter-spacing:0.78px;transform:scaleX(1.080);transform-origin:100% 50%;">12,10</span></div>
<i class="l" style="left:19px;top:710px;width:740px;height:1px"></i>
<span class="t comp" style="top:716px;letter-spacing:0.15px;left:38.00px;transform:scaleX(1.070);transform-origin:0 50%;">Ed. Haas SK s.r.o. (ED HASS)</span>
<span class="t num" style="top:716px;letter-spacing:0.69px;right:318.26px;transform:scaleX(1.080);transform-origin:100% 50%;">10 463,88</span>
<span class="t num" style="top:716px;letter-spacing:0.68px;right:235.27px;transform:scaleX(1.080);transform-origin:100% 50%;">142 696,62</span>
<span class="t num" style="top:716px;letter-spacing:0.72px;right:148.13px;transform:scaleX(1.080);transform-origin:100% 50%;">-132 232,74</span>
<span class="t cur" style="top:716px;letter-spacing:-0.20px;left:651.30px;transform:scaleX(1.080);transform-origin:0 50%;">Kč</span>
<i class="l" style="left:27px;top:731px;width:732px;height:1px"></i>
<span class="t dok" style="top:733px;letter-spacing:1.05px;left:26.60px;transform:scaleX(1.080);transform-origin:0 50%;">11/2008/1</span>
<span class="t vs" style="top:733px;letter-spacing:1.00px;left:145.20px;transform:scaleX(1.080);transform-origin:0 50%;">1247856</span>
<div class="c date" style="left:272.00px;top:733px;width:59.00px;height:13px"><span style="right:0.14px;letter-spacing:0.79px;transform:scaleX(1.080);transform-origin:100% 50%;">18.8.2008</span></div>
<div class="c date" style="left:331.00px;top:733px;width:58.00px;height:13px"><span style="right:0.42px;letter-spacing:0.81px;transform:scaleX(1.080);transform-origin:100% 50%;">1.9.2008</span></div>
<span class="t num" style="top:733px;letter-spacing:0.70px;right:318.24px;transform:scaleX(1.080);transform-origin:100% 50%;">4 047,87</span>
<span class="t num" style="top:733px;letter-spacing:0.70px;right:235.24px;transform:scaleX(1.080);transform-origin:100% 50%;">7 047,87</span>
<span class="t num" style="top:733px;letter-spacing:0.75px;right:148.09px;transform:scaleX(1.080);transform-origin:100% 50%;">-3 000,00</span>
<span class="t cur" style="top:733px;letter-spacing:0.38px;left:651.30px;transform:scaleX(1.080);transform-origin:0 50%;">Sk</span>
<span class="t pr" style="top:733px;letter-spacing:0.43px;right:96.30px;transform:scaleX(1.170);transform-origin:100% 50%;">2 566</span>
<div class="c num" style="left:702.50px;top:733px;width:55.80px;height:13px"><span style="right:-0.61px;letter-spacing:0.84px;transform:scaleX(1.080);transform-origin:100% 50%;">0,00</span></div>
<span class="t dok" style="top:745px;letter-spacing:0.95px;left:26.60px;transform:scaleX(1.080);transform-origin:0 50%;">21/2013/5</span>
<span class="t vs" style="top:745px;letter-spacing:1.14px;left:145.20px;transform:scaleX(1.080);transform-origin:0 50%;">4646</span>
<div class="c date" style="left:272.00px;top:745px;width:59.00px;height:13px"><span style="right:0.14px;letter-spacing:0.79px;transform:scaleX(1.080);transform-origin:100% 50%;">17.3.2014</span></div>
<div class="c date" style="left:331.00px;top:745px;width:58.00px;height:13px"><span style="right:0.44px;letter-spacing:0.79px;transform:scaleX(1.080);transform-origin:100% 50%;">31.3.2014</span></div>
<span class="t num" style="top:745px;letter-spacing:0.74px;right:318.20px;transform:scaleX(1.080);transform-origin:100% 50%;">265,00</span>
<span class="t num" style="top:745px;letter-spacing:0.70px;right:235.24px;transform:scaleX(1.080);transform-origin:100% 50%;">5 000,00</span>
<span class="t num" style="top:745px;letter-spacing:0.75px;right:148.09px;transform:scaleX(1.080);transform-origin:100% 50%;">-4 735,00</span>
<span class="t cur" style="top:745px;letter-spacing:-0.83px;left:651.30px;transform:scaleX(1.080);transform-origin:0 50%;">EUR</span>
<span class="t pr" style="top:745px;letter-spacing:0.46px;right:96.26px;transform:scaleX(1.170);transform-origin:100% 50%;">529</span>
<div class="c num" style="left:702.50px;top:745px;width:55.80px;height:13px"><span style="right:-0.61px;letter-spacing:0.84px;transform:scaleX(1.080);transform-origin:100% 50%;">0,00</span></div>
<i class="l" style="left:19px;top:756px;width:740px;height:1px"></i>
<span class="t comp" style="top:763px;letter-spacing:0.17px;left:38.00px;transform:scaleX(1.070);transform-origin:0 50%;">Euro Center Trade s.r.o. (EURO CENTER TRADE)</span>
<span class="t num" style="top:763px;letter-spacing:0.68px;right:318.27px;transform:scaleX(1.080);transform-origin:100% 50%;">120 816,00</span>
<span class="t num" style="top:763px;letter-spacing:0.84px;right:235.09px;transform:scaleX(1.080);transform-origin:100% 50%;">0,00</span>
<span class="t num" style="top:763px;letter-spacing:0.68px;right:148.17px;transform:scaleX(1.080);transform-origin:100% 50%;">120 816,00</span>
<span class="t cur" style="top:763px;letter-spacing:-0.20px;left:651.30px;transform:scaleX(1.080);transform-origin:0 50%;">Kč</span>
<i class="l" style="left:27px;top:777px;width:732px;height:1px"></i>
<span class="t dok" style="top:779px;letter-spacing:0.95px;left:26.60px;transform:scaleX(1.080);transform-origin:0 50%;">21/2010/6</span>
<span class="t vs" style="top:779px;letter-spacing:1.09px;left:145.20px;transform:scaleX(1.080);transform-origin:0 50%;">11225544</span>
<div class="c date" style="left:272.00px;top:779px;width:59.00px;height:13px"><span style="right:0.12px;letter-spacing:0.81px;transform:scaleX(1.080);transform-origin:100% 50%;">4.1.2010</span></div>
<div class="c date" style="left:331.00px;top:779px;width:58.00px;height:13px"><span style="right:0.44px;letter-spacing:0.79px;transform:scaleX(1.080);transform-origin:100% 50%;">25.1.2010</span></div>
<span class="t num" style="top:779px;letter-spacing:0.68px;right:318.27px;transform:scaleX(1.080);transform-origin:100% 50%;">120 816,00</span>
<span class="t num" style="top:779px;letter-spacing:0.84px;right:235.09px;transform:scaleX(1.080);transform-origin:100% 50%;">0,00</span>
<span class="t num" style="top:779px;letter-spacing:0.68px;right:148.17px;transform:scaleX(1.080);transform-origin:100% 50%;">120 816,00</span>
<span class="t cur" style="top:779px;letter-spacing:-0.20px;left:651.30px;transform:scaleX(1.080);transform-origin:0 50%;">Kč</span>
<span class="t pr" style="top:779px;letter-spacing:0.43px;right:96.30px;transform:scaleX(1.170);transform-origin:100% 50%;">2 055</span>
<div class="c num" style="left:702.50px;top:779px;width:55.80px;height:13px"><span style="right:-0.44px;letter-spacing:0.69px;transform:scaleX(1.080);transform-origin:100% 50%;">24 138,44</span></div>
<i class="l" style="left:19px;top:790px;width:740px;height:1px"></i>
<span class="t comp" style="top:797px;letter-spacing:0.21px;left:38.00px;transform:scaleX(1.070);transform-origin:0 50%;">Gouda Kaas (GOUDA KAAS)</span>
<span class="t num" style="top:797px;letter-spacing:0.69px;right:318.26px;transform:scaleX(1.080);transform-origin:100% 50%;">22 388,68</span>
<span class="t num" style="top:797px;letter-spacing:0.84px;right:235.09px;transform:scaleX(1.080);transform-origin:100% 50%;">0,00</span>
<span class="t num" style="top:797px;letter-spacing:0.69px;right:148.16px;transform:scaleX(1.080);transform-origin:100% 50%;">22 388,68</span>
<span class="t cur" style="top:797px;letter-spacing:-0.20px;left:651.30px;transform:scaleX(1.080);transform-origin:0 50%;">Kč</span>
<i class="l" style="left:27px;top:811px;width:732px;height:1px"></i>
<span class="t dok" style="top:813px;letter-spacing:0.95px;left:26.60px;transform:scaleX(1.080);transform-origin:0 50%;">21/2013/3</span>
<span class="t vs" style="top:813px;letter-spacing:0.98px;left:145.20px;transform:scaleX(1.080);transform-origin:0 50%;">46674131</span>
<div class="c date" style="left:272.00px;top:813px;width:59.00px;height:13px"><span style="right:0.14px;letter-spacing:0.79px;transform:scaleX(1.080);transform-origin:100% 50%;">12.8.2013</span></div>
<div class="c date" style="left:331.00px;top:813px;width:58.00px;height:13px"><span style="right:0.44px;letter-spacing:0.79px;transform:scaleX(1.080);transform-origin:100% 50%;">26.8.2013</span></div>
<span class="t num" style="top:813px;letter-spacing:0.74px;right:318.20px;transform:scaleX(1.080);transform-origin:100% 50%;">816,36</span>
<span class="t num" style="top:813px;letter-spacing:0.84px;right:235.09px;transform:scaleX(1.080);transform-origin:100% 50%;">0,00</span>
<span class="t num" style="top:813px;letter-spacing:0.74px;right:148.10px;transform:scaleX(1.080);transform-origin:100% 50%;">816,36</span>
<span class="t cur" style="top:813px;letter-spacing:-0.83px;left:651.30px;transform:scaleX(1.080);transform-origin:0 50%;">EUR</span>
<span class="t pr" style="top:813px;letter-spacing:0.46px;right:96.26px;transform:scaleX(1.170);transform-origin:100% 50%;">746</span>
<div class="c num" style="left:702.50px;top:813px;width:55.80px;height:13px"><span style="right:-0.50px;letter-spacing:0.74px;transform:scaleX(1.080);transform-origin:100% 50%;">329,36</span></div>
<i class="l" style="left:19px;top:824px;width:740px;height:1px"></i>
<span class="t comp" style="top:831px;letter-spacing:0.28px;left:38.00px;transform:scaleX(1.070);transform-origin:0 50%;">Novák Jan (NOVÁK JAN)</span>
<span class="t num" style="top:831px;letter-spacing:0.67px;right:318.28px;transform:scaleX(1.080);transform-origin:100% 50%;">1 700 853,20</span>
<span class="t num" style="top:831px;letter-spacing:0.69px;right:235.26px;transform:scaleX(1.080);transform-origin:100% 50%;">40 478,26</span>
<span class="t num" style="top:831px;letter-spacing:0.67px;right:148.18px;transform:scaleX(1.080);transform-origin:100% 50%;">1 660 374,94</span>
<span class="t cur" style="top:831px;letter-spacing:-0.20px;left:651.30px;transform:scaleX(1.080);transform-origin:0 50%;">Kč</span>
<i class="l" style="left:27px;top:845px;width:732px;height:1px"></i>
<span class="t dok" style="top:847px;letter-spacing:0.79px;left:26.60px;transform:scaleX(1.080);transform-origin:0 50%;">SA/2001/5</span>
<span class="t vs" style="top:847px;letter-spacing:0.95px;left:145.20px;transform:scaleX(1.080);transform-origin:0 50%;">2000252546</span>
<div class="c date" style="left:272.00px;top:847px;width:59.00px;height:13px"><span style="right:0.14px;letter-spacing:0.79px;transform:scaleX(1.080);transform-origin:100% 50%;">12.6.2000</span></div>
<div class="c date" style="left:331.00px;top:847px;width:58.00px;height:13px"><span style="right:0.44px;letter-spacing:0.79px;transform:scaleX(1.080);transform-origin:100% 50%;">26.6.2000</span></div>
<span class="t num" style="top:847px;letter-spacing:0.70px;right:318.24px;transform:scaleX(1.080);transform-origin:100% 50%;">2 084,00</span>
<span class="t num" style="top:847px;letter-spacing:0.70px;right:235.24px;transform:scaleX(1.080);transform-origin:100% 50%;">4 168,00</span>
<span class="t num" style="top:847px;letter-spacing:0.75px;right:148.09px;transform:scaleX(1.080);transform-origin:100% 50%;">-2 084,00</span>
<span class="t cur" style="top:847px;letter-spacing:-0.20px;left:651.30px;transform:scaleX(1.080);transform-origin:0 50%;">Kč</span>
<span class="t pr" style="top:847px;letter-spacing:0.43px;right:96.30px;transform:scaleX(1.170);transform-origin:100% 50%;">5 555</span>
<div class="c num" style="left:702.50px;top:847px;width:55.80px;height:13px"><span style="right:-0.61px;letter-spacing:0.84px;transform:scaleX(1.080);transform-origin:100% 50%;">0,00</span></div>
<span class="t dok" style="top:859px;letter-spacing:0.79px;left:26.60px;transform:scaleX(1.080);transform-origin:0 50%;">SA/2001/6</span>
<span class="t vs" style="top:859px;letter-spacing:0.95px;left:145.20px;transform:scaleX(1.080);transform-origin:0 50%;">2000900653</span>
<div class="c date" style="left:272.00px;top:859px;width:59.00px;height:13px"><span style="right:0.14px;letter-spacing:0.79px;transform:scaleX(1.080);transform-origin:100% 50%;">19.6.2000</span></div>
<div class="c date" style="left:331.00px;top:859px;width:58.00px;height:13px"><span style="right:0.42px;letter-spacing:0.81px;transform:scaleX(1.080);transform-origin:100% 50%;">3.7.2000</span></div>
<span class="t num" style="top:859px;letter-spacing:0.74px;right:318.20px;transform:scaleX(1.080);transform-origin:100% 50%;">658,80</span>
<span class="t num" style="top:859px;letter-spacing:0.70px;right:235.24px;transform:scaleX(1.080);transform-origin:100% 50%;">1 317,60</span>
<span class="t num" style="top:859px;letter-spacing:0.79px;right:148.04px;transform:scaleX(1.080);transform-origin:100% 50%;">-658,80</span>
<span class="t cur" style="top:859px;letter-spacing:-0.20px;left:651.30px;transform:scaleX(1.080);transform-origin:0 50%;">Kč</span>
<span class="t pr" style="top:859px;letter-spacing:0.43px;right:96.30px;transform:scaleX(1.170);transform-origin:100% 50%;">5 548</span>
<div class="c num" style="left:702.50px;top:859px;width:55.80px;height:13px"><span style="right:-0.61px;letter-spacing:0.84px;transform:scaleX(1.080);transform-origin:100% 50%;">0,00</span></div>
<span class="t dok" style="top:871px;letter-spacing:0.77px;left:26.60px;transform:scaleX(1.080);transform-origin:0 50%;">SA/2001/13</span>
<span class="t vs" style="top:871px;letter-spacing:0.95px;left:145.20px;transform:scaleX(1.080);transform-origin:0 50%;">0000120524</span>
<div class="c date" style="left:272.00px;top:871px;width:59.00px;height:13px"><span style="right:0.16px;letter-spacing:0.78px;transform:scaleX(1.080);transform-origin:100% 50%;">18.12.2000</span></div>
<div class="c date" style="left:331.00px;top:871px;width:58.00px;height:13px"><span style="right:0.42px;letter-spacing:0.81px;transform:scaleX(1.080);transform-origin:100% 50%;">1.1.2001</span></div>
<span class="t num" style="top:871px;letter-spacing:0.70px;right:318.24px;transform:scaleX(1.080);transform-origin:100% 50%;">4 621,90</span>
<span class="t num" style="top:871px;letter-spacing:0.70px;right:235.24px;transform:scaleX(1.080);transform-origin:100% 50%;">9 243,80</span>
<span class="t num" style="top:871px;letter-spacing:0.75px;right:148.09px;transform:scaleX(1.080);transform-origin:100% 50%;">-4 621,90</span>
<span class="t cur" style="top:871px;letter-spacing:-0.20px;left:651.30px;transform:scaleX(1.080);transform-origin:0 50%;">Kč</span>
<span class="t pr" style="top:871px;letter-spacing:0.43px;right:96.30px;transform:scaleX(1.170);transform-origin:100% 50%;">5 366</span>
<div class="c num" style="left:702.50px;top:871px;width:55.80px;height:13px"><span style="right:-0.61px;letter-spacing:0.84px;transform:scaleX(1.080);transform-origin:100% 50%;">0,00</span></div>
<span class="t dok" style="top:883px;letter-spacing:1.05px;left:26.60px;transform:scaleX(1.080);transform-origin:0 50%;">11/2004/3</span>
<span class="t vs" style="top:883px;letter-spacing:0.98px;left:145.20px;transform:scaleX(1.080);transform-origin:0 50%;">12400210</span>
<div class="c date" style="left:272.00px;top:883px;width:59.00px;height:13px"><span style="right:0.14px;letter-spacing:0.79px;transform:scaleX(1.080);transform-origin:100% 50%;">4.10.2004</span></div>
<div class="c date" style="left:331.00px;top:883px;width:58.00px;height:13px"><span style="right:0.46px;letter-spacing:0.78px;transform:scaleX(1.080);transform-origin:100% 50%;">18.10.2004</span></div>
<span class="t num" style="top:883px;letter-spacing:0.69px;right:318.26px;transform:scaleX(1.080);transform-origin:100% 50%;">27 500,00</span>
<span class="t num" style="top:883px;letter-spacing:0.69px;right:235.26px;transform:scaleX(1.080);transform-origin:100% 50%;">25 748,86</span>
<span class="t num" style="top:883px;letter-spacing:0.70px;right:148.14px;transform:scaleX(1.080);transform-origin:100% 50%;">1 751,14</span>
<span class="t cur" style="top:883px;letter-spacing:-0.20px;left:651.30px;transform:scaleX(1.080);transform-origin:0 50%;">Kč</span>
<span class="t pr" style="top:883px;letter-spacing:0.43px;right:96.30px;transform:scaleX(1.170);transform-origin:100% 50%;">3 980</span>
<div class="c num" style="left:702.50px;top:883px;width:55.80px;height:13px"><span style="right:-0.46px;letter-spacing:0.70px;transform:scaleX(1.080);transform-origin:100% 50%;">3 484,77</span></div>
<span class="t dok" style="top:895px;letter-spacing:0.74px;left:26.60px;transform:scaleX(1.080);transform-origin:0 50%;">EN/2014/1</span>
<span class="t vs" style="top:895px;letter-spacing:1.03px;left:145.20px;transform:scaleX(1.080);transform-origin:0 50%;">123456</span>
<div class="c date" style="left:272.00px;top:895px;width:59.00px;height:13px"><span style="right:0.14px;letter-spacing:0.79px;transform:scaleX(1.080);transform-origin:100% 50%;">8.10.2014</span></div>
<div class="c date" style="left:331.00px;top:895px;width:58.00px;height:13px"><span style="right:0.46px;letter-spacing:0.78px;transform:scaleX(1.080);transform-origin:100% 50%;">12.10.2014</span></div>
<span class="t num" style="top:895px;letter-spacing:0.67px;right:318.28px;transform:scaleX(1.080);transform-origin:100% 50%;">1 665 988,50</span>
<span class="t num" style="top:895px;letter-spacing:0.84px;right:235.09px;transform:scaleX(1.080);transform-origin:100% 50%;">0,00</span>
<span class="t num" style="top:895px;letter-spacing:0.67px;right:148.18px;transform:scaleX(1.080);transform-origin:100% 50%;">1 665 988,50</span>
<span class="t cur" style="top:895px;letter-spacing:-0.20px;left:651.30px;transform:scaleX(1.080);transform-origin:0 50%;">Kč</span>
<span class="t pr" style="top:895px;letter-spacing:0.46px;right:96.26px;transform:scaleX(1.170);transform-origin:100% 50%;">324</span>
<div class="c num" style="left:702.50px;top:895px;width:55.80px;height:13px"><span style="right:-0.43px;letter-spacing:0.68px;transform:scaleX(1.080);transform-origin:100% 50%;">169 890,14</span></div>
<i class="l" style="left:19px;top:906px;width:740px;height:1px"></i>
<span class="t comp" style="top:913px;letter-spacing:0.28px;left:38.00px;transform:scaleX(1.070);transform-origin:0 50%;">OMEGA s.r.o. (OMEGA)</span>
<span class="t num" style="top:913px;letter-spacing:0.67px;right:318.28px;transform:scaleX(1.080);transform-origin:100% 50%;">6 352 500,00</span>
<span class="t num" style="top:913px;letter-spacing:0.68px;right:235.27px;transform:scaleX(1.080);transform-origin:100% 50%;">300 000,00</span>
<span class="t num" style="top:913px;letter-spacing:0.67px;right:148.18px;transform:scaleX(1.080);transform-origin:100% 50%;">6 052 500,00</span>
<span class="t cur" style="top:913px;letter-spacing:-0.20px;left:651.30px;transform:scaleX(1.080);transform-origin:0 50%;">Kč</span>
<i class="l" style="left:27px;top:927px;width:732px;height:1px"></i>
<span class="t dok" style="top:929px;letter-spacing:1.05px;left:26.60px;transform:scaleX(1.080);transform-origin:0 50%;">11/2014/1</span>
<span class="t vs" style="top:929px;letter-spacing:1.00px;left:145.20px;transform:scaleX(1.080);transform-origin:0 50%;">1400022</span>
<div class="c date" style="left:272.00px;top:929px;width:59.00px;height:13px"><span style="right:0.14px;letter-spacing:0.79px;transform:scaleX(1.080);transform-origin:100% 50%;">15.1.2014</span></div>
<div class="c date" style="left:331.00px;top:929px;width:58.00px;height:13px"><span style="right:0.44px;letter-spacing:0.79px;transform:scaleX(1.080);transform-origin:100% 50%;">25.2.2014</span></div>
<span class="t num" style="top:929px;letter-spacing:0.67px;right:318.28px;transform:scaleX(1.080);transform-origin:100% 50%;">6 352 500,00</span>
<span class="t num" style="top:929px;letter-spacing:0.68px;right:235.27px;transform:scaleX(1.080);transform-origin:100% 50%;">300 000,00</span>
<span class="t num" style="top:929px;letter-spacing:0.67px;right:148.18px;transform:scaleX(1.080);transform-origin:100% 50%;">6 052 500,00</span>
<span class="t cur" style="top:929px;letter-spacing:-0.20px;left:651.30px;transform:scaleX(1.080);transform-origin:0 50%;">Kč</span>
<span class="t pr" style="top:929px;letter-spacing:0.46px;right:96.26px;transform:scaleX(1.170);transform-origin:100% 50%;">563</span>
<div class="c hash" style="left:702.50px;top:928px;width:55.80px;height:12px"><span style="right:-0.30px;letter-spacing:0.30px;transform:scale(1.3,0.78);transform-origin:100% 75%;">########</span></div>
<i class="l" style="left:19px;top:940px;width:740px;height:1px"></i>
<span class="t comp" style="top:947px;letter-spacing:0.34px;left:38.00px;transform:scaleX(1.070);transform-origin:0 50%;">Orbis S.A. (ORBIS)</span>
<span class="t num" style="top:947px;letter-spacing:0.70px;right:318.24px;transform:scaleX(1.080);transform-origin:100% 50%;">3 836,80</span>
<span class="t num" style="top:947px;letter-spacing:0.84px;right:235.09px;transform:scaleX(1.080);transform-origin:100% 50%;">0,00</span>
<span class="t num" style="top:947px;letter-spacing:0.70px;right:148.14px;transform:scaleX(1.080);transform-origin:100% 50%;">3 836,80</span>
<span class="t cur" style="top:947px;letter-spacing:-0.20px;left:651.30px;transform:scaleX(1.080);transform-origin:0 50%;">Kč</span>
<i class="l" style="left:27px;top:962px;width:732px;height:1px"></i>
<span class="t dok" style="top:964px;letter-spacing:0.95px;left:26.60px;transform:scaleX(1.080);transform-origin:0 50%;">21/2009/5</span>
<span class="t vs" style="top:964px;letter-spacing:0.98px;left:145.20px;transform:scaleX(1.080);transform-origin:0 50%;">45678974</span>
<div class="c date" style="left:272.00px;top:964px;width:59.00px;height:13px"><span style="right:0.04px;letter-spacing:0.89px;transform:scaleX(1.080);transform-origin:100% 50%;">5.11.2009</span></div>
<div class="c date" style="left:331.00px;top:964px;width:58.00px;height:13px"><span style="right:0.44px;letter-spacing:0.79px;transform:scaleX(1.080);transform-origin:100% 50%;">3.12.2009</span></div>
<span class="t num" style="top:964px;letter-spacing:0.74px;right:318.20px;transform:scaleX(1.080);transform-origin:100% 50%;">172,03</span>
<span class="t num" style="top:964px;letter-spacing:0.84px;right:235.09px;transform:scaleX(1.080);transform-origin:100% 50%;">0,00</span>
<span class="t num" style="top:964px;letter-spacing:0.74px;right:148.10px;transform:scaleX(1.080);transform-origin:100% 50%;">172,03</span>
<span class="t cur" style="top:964px;letter-spacing:0.44px;left:651.30px;transform:scaleX(1.080);transform-origin:0 50%;">$</span>
<span class="t pr" style="top:964px;letter-spacing:0.43px;right:96.30px;transform:scaleX(1.170);transform-origin:100% 50%;">2 108</span>
<div class="c num" style="left:702.50px;top:964px;width:55.80px;height:13px"><span style="right:-0.50px;letter-spacing:0.74px;transform:scaleX(1.080);transform-origin:100% 50%;">199,54</span></div>
<span class="t dok" style="top:976px;letter-spacing:0.95px;left:26.60px;transform:scaleX(1.080);transform-origin:0 50%;">21/2013/2</span>
<span class="t vs" style="top:976px;letter-spacing:1.03px;left:145.20px;transform:scaleX(1.080);transform-origin:0 50%;">855214</span>
<div class="c date" style="left:272.00px;top:976px;width:59.00px;height:13px"><span style="right:0.12px;letter-spacing:0.81px;transform:scaleX(1.080);transform-origin:100% 50%;">5.8.2013</span></div>
<div class="c date" style="left:331.00px;top:976px;width:58.00px;height:13px"><span style="right:0.42px;letter-spacing:0.81px;transform:scaleX(1.080);transform-origin:100% 50%;">2.9.2013</span></div>
<span class="t num" style="top:976px;letter-spacing:0.78px;right:318.16px;transform:scaleX(1.080);transform-origin:100% 50%;">20,83</span>
<span class="t num" style="top:976px;letter-spacing:0.84px;right:235.09px;transform:scaleX(1.080);transform-origin:100% 50%;">0,00</span>
<span class="t num" style="top:976px;letter-spacing:0.78px;right:148.06px;transform:scaleX(1.080);transform-origin:100% 50%;">20,83</span>
<span class="t cur" style="top:976px;letter-spacing:0.44px;left:651.30px;transform:scaleX(1.080);transform-origin:0 50%;">$</span>
<span class="t pr" style="top:976px;letter-spacing:0.46px;right:96.26px;transform:scaleX(1.170);transform-origin:100% 50%;">739</span>
<div class="c num" style="left:702.50px;top:976px;width:55.80px;height:13px"><span style="right:-0.61px;letter-spacing:0.84px;transform:scaleX(1.080);transform-origin:100% 50%;">7,86</span></div>
<i class="l" style="left:19px;top:987px;width:740px;height:1px"></i>
<span class="t comp" style="top:993px;letter-spacing:0.17px;left:38.00px;transform:scaleX(1.070);transform-origin:0 50%;">Pfanner, spol. s r.o. (PFANNER)</span>
<span class="t num" style="top:993px;letter-spacing:0.68px;right:318.27px;transform:scaleX(1.080);transform-origin:100% 50%;">181 042,56</span>
<span class="t num" style="top:993px;letter-spacing:0.84px;right:235.09px;transform:scaleX(1.080);transform-origin:100% 50%;">0,00</span>
<span class="t num" style="top:993px;letter-spacing:0.68px;right:148.17px;transform:scaleX(1.080);transform-origin:100% 50%;">181 042,56</span>
<span class="t cur" style="top:993px;letter-spacing:-0.20px;left:651.30px;transform:scaleX(1.080);transform-origin:0 50%;">Kč</span>
<i class="l" style="left:27px;top:1008px;width:732px;height:1px"></i>
<span class="t dok" style="top:1010px;letter-spacing:0.95px;left:26.60px;transform:scaleX(1.080);transform-origin:0 50%;">21/2010/5</span>
<span class="t vs" style="top:1010px;letter-spacing:1.03px;left:145.20px;transform:scaleX(1.080);transform-origin:0 50%;">741254</span>
<div class="c date" style="left:272.00px;top:1010px;width:59.00px;height:13px"><span style="right:0.12px;letter-spacing:0.81px;transform:scaleX(1.080);transform-origin:100% 50%;">4.1.2010</span></div>
<div class="c date" style="left:331.00px;top:1010px;width:58.00px;height:13px"><span style="right:0.44px;letter-spacing:0.79px;transform:scaleX(1.080);transform-origin:100% 50%;">25.1.2010</span></div>
<span class="t num" style="top:1010px;letter-spacing:0.68px;right:318.27px;transform:scaleX(1.080);transform-origin:100% 50%;">181 042,56</span>
<span class="t num" style="top:1010px;letter-spacing:0.84px;right:235.09px;transform:scaleX(1.080);transform-origin:100% 50%;">0,00</span>
<span class="t num" style="top:1010px;letter-spacing:0.68px;right:148.17px;transform:scaleX(1.080);transform-origin:100% 50%;">181 042,56</span>
<span class="t cur" style="top:1010px;letter-spacing:-0.20px;left:651.30px;transform:scaleX(1.080);transform-origin:0 50%;">Kč</span>
<span class="t pr" style="top:1010px;letter-spacing:0.43px;right:96.30px;transform:scaleX(1.170);transform-origin:100% 50%;">2 055</span>
<div class="c num" style="left:702.50px;top:1010px;width:55.80px;height:13px"><span style="right:-0.44px;letter-spacing:0.69px;transform:scaleX(1.080);transform-origin:100% 50%;">86 021,23</span></div>
<i class="l" style="left:19px;top:1021px;width:740px;height:1px"></i>
<span class="t comp" style="top:1027px;letter-spacing:0.11px;left:38.00px;transform:scaleX(1.070);transform-origin:0 50%;">Prodej maloobchodní (PRODEJ)</span>
<span class="t num" style="top:1027px;letter-spacing:0.69px;right:318.26px;transform:scaleX(1.080);transform-origin:100% 50%;">12 960,00</span>
<span class="t num" style="top:1027px;letter-spacing:0.84px;right:235.09px;transform:scaleX(1.080);transform-origin:100% 50%;">0,00</span>
<span class="t num" style="top:1027px;letter-spacing:0.69px;right:148.16px;transform:scaleX(1.080);transform-origin:100% 50%;">12 960,00</span>
<span class="t cur" style="top:1027px;letter-spacing:-0.20px;left:651.30px;transform:scaleX(1.080);transform-origin:0 50%;">Kč</span>
<i class="l" style="left:27px;top:1042px;width:732px;height:1px"></i>
<span class="t dok" style="top:1044px;letter-spacing:1.00px;left:26.60px;transform:scaleX(1.080);transform-origin:0 50%;">11/2009/20</span>
<span class="t vs" style="top:1044px;letter-spacing:1.29px;left:145.20px;transform:scaleX(1.080);transform-origin:0 50%;">785</span>
<div class="c date" style="left:272.00px;top:1044px;width:59.00px;height:13px"><span style="right:0.07px;letter-spacing:0.86px;transform:scaleX(1.080);transform-origin:100% 50%;">19.11.2009</span></div>
<div class="c date" style="left:331.00px;top:1044px;width:58.00px;height:13px"><span style="right:0.44px;letter-spacing:0.79px;transform:scaleX(1.080);transform-origin:100% 50%;">3.12.2009</span></div>
<span class="t num" style="top:1044px;letter-spacing:0.69px;right:318.26px;transform:scaleX(1.080);transform-origin:100% 50%;">12 960,00</span>
<span class="t num" style="top:1044px;letter-spacing:0.84px;right:235.09px;transform:scaleX(1.080);transform-origin:100% 50%;">0,00</span>
<span class="t num" style="top:1044px;letter-spacing:0.69px;right:148.16px;transform:scaleX(1.080);transform-origin:100% 50%;">12 960,00</span>
<span class="t cur" style="top:1044px;letter-spacing:-0.20px;left:651.30px;transform:scaleX(1.080);transform-origin:0 50%;">Kč</span>
<span class="t pr" style="top:1044px;letter-spacing:0.43px;right:96.30px;transform:scaleX(1.170);transform-origin:100% 50%;">2 108</span>
<div class="c num" style="left:702.50px;top:1044px;width:55.80px;height:13px"><span style="right:-0.44px;letter-spacing:0.69px;transform:scaleX(1.080);transform-origin:100% 50%;">13 659,84</span></div>
<i class="l" style="left:19px;top:1055px;width:740px;height:1px"></i>
<span class="t comp" style="top:1062px;letter-spacing:0.21px;left:38.00px;transform:scaleX(1.070);transform-origin:0 50%;">Severomoravská energetika, a.s. (SME)</span>
<span class="t num" style="top:1062px;letter-spacing:0.70px;right:318.24px;transform:scaleX(1.080);transform-origin:100% 50%;">3 410,00</span>
<span class="t num" style="top:1062px;letter-spacing:0.84px;right:235.09px;transform:scaleX(1.080);transform-origin:100% 50%;">0,00</span>
<span class="t num" style="top:1062px;letter-spacing:0.70px;right:148.14px;transform:scaleX(1.080);transform-origin:100% 50%;">3 410,00</span>
<span class="t cur" style="top:1062px;letter-spacing:-0.20px;left:651.30px;transform:scaleX(1.080);transform-origin:0 50%;">Kč</span>
<i class="l" style="left:27px;top:1076px;width:732px;height:1px"></i>
</body></html>
